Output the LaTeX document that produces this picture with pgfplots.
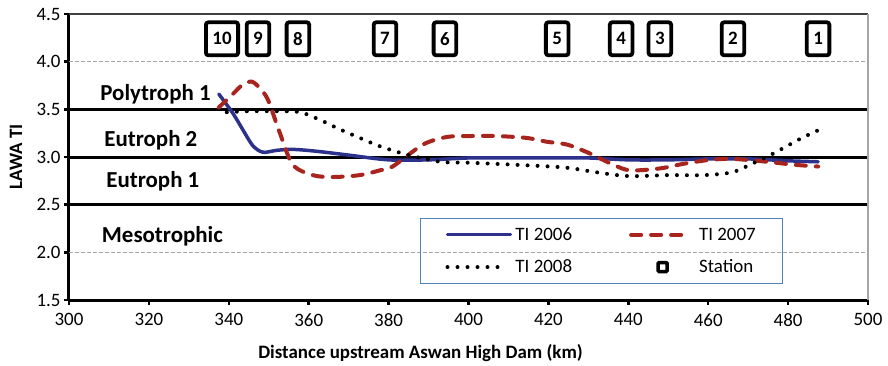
\documentclass[border=0pt]{standalone}
\usepackage{pgfplots}
\pgfplotsset{compat=1.18}
\usepackage{fontspec}
\setmainfont{Carlito}
\definecolor{tiblue}{RGB}{44,50,140}
\definecolor{tired}{RGB}{168,36,30}
\definecolor{legblue}{RGB}{79,129,189}
\newcommand{\fs}{\fontsize{19}{23}\selectfont}
\newcommand{\fz}{\fontsize{23}{27}\selectfont}
\pgfplotsset{
 blueimg/.style={legend image code/.code={\draw[tiblue, line width=3.5bp, line cap=round] (0bp,0bp) -- (63bp,0bp); \path[draw=none] (63bp,0bp) -- (66bp,0bp);}},
 redimg/.style={legend image code/.code={\draw[tired, line width=4bp, line cap=round, dash pattern=on 10bp off 10bp] (0bp,0bp) -- (55bp,0bp); \path[draw=none] (55bp,0bp) -- (66bp,0bp);}},
 blackimg/.style={legend image code/.code={\draw[black, line width=4bp, line cap=round, dash pattern=on 0bp off 10bp] (0bp,0bp) -- (58bp,0bp); \path[draw=none] (58bp,0bp) -- (66bp,0bp);}},
 stimg/.style={legend image code/.code={\draw[black, line width=3.5bp, rounded corners=1bp] (27bp,-4.5bp) rectangle (36bp,4.5bp); \path[draw=none] (0bp,0bp) -- (66bp,0bp);}},
}
\begin{document}
\begin{tikzpicture}
\path[use as bounding box] (-69bp,-66bp) rectangle (819bp,300bp);
\begin{axis}[
 name=ax, at={(0,0)}, anchor=south west,
 scale only axis, width=799bp, height=286bp,
 xmin=300, xmax=500, ymin=1.5, ymax=4.5,
 xtick={300,320,...,500}, ytick={1.5,2,...,4.5},
 axis x line*=bottom, axis y line*=left,
 axis line style={line width=3bp, black},
 tick align=outside, major tick length=5bp,
 tick style={line width=2.5bp, black},
 ticklabel style={font=\fs},
 /pgf/number format/assume math mode=true,
 yticklabel style={/pgf/number format/.cd, fixed, fixed zerofill, precision=1, /tikz/.cd},
 xticklabel style={yshift=-5bp, /pgf/number format/.cd, fixed, precision=0, 1000 sep={}, /tikz/.cd},
 xlabel={Distance upstream Aswan High Dam (km)},
 xlabel style={font=\fs\bfseries, at={(axis description cs:0.44,-0.2028)}, anchor=base},
 ylabel={LAWA TI},
 ylabel style={font=\fs\bfseries, at={(axis description cs:-0.0588,0.5)}, anchor=base},
 legend columns=2, legend cell align=left,
 legend style={draw=legblue, line width=1bp, fill=none, font=\fs,
   at={(0.4393,0.2867)}, anchor=north west,
   inner xsep=25bp, inner ysep=7bp, row sep=14bp,
   /tikz/every even column/.append style={column sep=55bp}},
]
% grid lines and class boundaries
\addplot[gray!70, line width=1bp, dash pattern=on 4bp off 2bp, forget plot] coordinates {(300,4.0) (500,4.0)};
\addplot[gray!70, line width=1bp, dash pattern=on 4bp off 2bp, forget plot] coordinates {(300,2.0) (500,2.0)};
\addplot[black, line width=3bp, forget plot] coordinates {(300,3.5) (500,3.5)};
\addplot[black, line width=3bp, forget plot] coordinates {(300,3.0) (500,3.0)};
\addplot[black, line width=3bp, forget plot] coordinates {(300,2.5) (500,2.5)};

\addplot[tiblue, line width=3.5bp, smooth, line cap=round, blueimg]
 coordinates {(337.5,3.66) (341,3.46) (343.6,3.28) (346,3.12) (348.5,3.05) (352,3.07) (356,3.08) (362,3.06) (370,3.02) (380,2.97) (390,2.97) (400,2.99) (410,2.99) (420,2.99) (430,2.99) (440,2.97) (450,2.97) (460,2.98) (470,2.98) (480,2.96) (487.5,2.95)};
\addlegendentry{TI 2006}

\addplot[tired, line width=4bp, smooth, line cap=round, dash pattern=on 10bp off 10bp, redimg]
 coordinates {(337.5,3.52) (341,3.66) (343.5,3.76) (345.8,3.79) (347.8,3.72) (349.8,3.6) (352.8,3.25) (356,2.92) (361,2.81) (366,2.79) (372.8,2.81) (377.8,2.86) (381,2.90) (388.6,3.13) (394.6,3.21) (400.4,3.22) (407,3.22) (414.6,3.20) (419.6,3.16) (424.7,3.13) (429.7,3.05) (432.2,3.0) (436.2,2.92) (440.4,2.86) (447.9,2.88) (454,2.93) (460.4,2.97) (466.2,2.98) (474.7,2.95) (481.2,2.92) (487.5,2.90)};
\addlegendentry{TI 2007}

\addplot[black, line width=4bp, smooth, line cap=round, dash pattern=on 0bp off 10bp, blackimg]
 coordinates {(339.5,3.47) (345,3.48) (352,3.48) (357.8,3.47) (362.8,3.39) (367.8,3.29) (372.8,3.20) (378,3.11) (385,3.02) (393,2.95) (400,2.94) (411,2.92) (424,2.89) (432,2.84) (440,2.80) (450,2.81) (459,2.81) (466,2.84) (471,2.93) (476,3.03) (483,3.19) (487.5,3.28)};
\addlegendentry{TI 2008}

\addplot[only marks, mark=none, point meta=explicit symbolic, nodes near coords, stimg,
  every node near coord/.append style={font=\fs\bfseries, draw=black, line width=3.8bp, rounded corners=2.5bp, inner xsep=6.5bp, inner ysep=0bp, minimum height=33bp, anchor=center, text=black}]
 coordinates {(338.3,4.24) [10] (347.3,4.24) [9] (357.3,4.24) [8] (379.1,4.24) [7] (394.1,4.24) [6] (422.2,4.24) [5] (438.2,4.24) [4] (447.9,4.24) [3] (466.2,4.24) [2] (487.5,4.24) [1]};
\addlegendentry{Station}

\node[font=\fz\bfseries, anchor=base west, inner sep=0pt] at (axis cs:307.8,3.590) {Polytroph 1};
\node[font=\fz\bfseries, anchor=base west, inner sep=0pt] at (axis cs:308.8,3.115) {Eutroph 2};
\node[font=\fz\bfseries, anchor=base west, inner sep=0pt] at (axis cs:309.3,2.675) {Eutroph 1};
\node[font=\fz\bfseries, anchor=base west, inner sep=0pt] at (axis cs:308.2,2.101) {Mesotrophic};
\end{axis}
\draw[black!75, line width=1.2bp] (ax.north west) -- (ax.north east);
\draw[black!35, line width=2bp] (ax.south east) -- (ax.north east);
\end{tikzpicture}
\end{document}
